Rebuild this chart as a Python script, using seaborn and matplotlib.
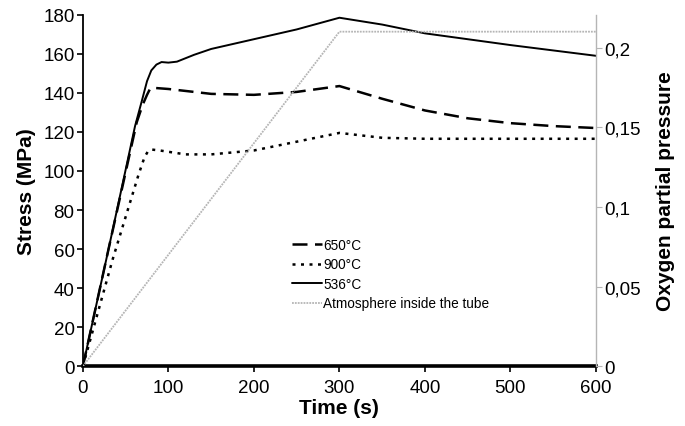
import matplotlib
matplotlib.use("Agg")
import matplotlib.pyplot as plt
import seaborn as sns

# stress curves (time in s, stress in MPa)
t_536 = [0, 30, 61, 69, 75, 80, 86, 92, 100, 110, 130, 150, 200, 250, 300, 350, 400, 500, 600]
s_536 = [0, 60, 123, 136, 146, 151.5, 154.5, 155.8, 155.5, 156, 159.5, 162.5, 167.5, 172.5, 178.5, 175, 170.5, 164.5, 159]

t_650 = [0, 30, 63, 70, 75, 79, 85, 100, 150, 200, 250, 300, 350, 400, 450, 500, 550, 600]
s_650 = [0, 60, 125, 134, 139, 142.5, 142.5, 142, 139.5, 139, 140.5, 143.5, 137, 131, 127, 124.5, 123, 122]

t_900 = [0, 35, 65, 72, 76, 80, 90, 120, 150, 200, 250, 300, 350, 400, 600]
s_900 = [0, 55, 98, 107, 110, 111, 110.5, 108.5, 108.5, 110.5, 115, 119.5, 117, 116.5, 116.5]

# oxygen partial pressure in the tube
t_o2 = [0, 300, 600]
p_o2 = [0, 0.21, 0.21]

sns.set_style("ticks")
plt.rcParams["font.family"] = ["Liberation Sans", "DejaVu Sans"]
plt.rcParams["text.color"] = "black"
plt.rcParams["axes.labelcolor"] = "black"
plt.rcParams["xtick.color"] = "black"
plt.rcParams["ytick.color"] = "black"

fig = plt.figure(figsize=(6.85, 4.27), dpi=100)
ax = fig.add_axes([0.121, 0.140, 0.749, 0.823])
ax2 = ax.twinx()

sns.lineplot(x=t_650, y=s_650, ax=ax, color="black", lw=1.8,
             linestyle=(0, (6, 3)), label="650°C", sort=False)
sns.lineplot(x=t_900, y=s_900, ax=ax, color="black", lw=1.8,
             linestyle=(0, (1.2, 2.2)), label="900°C", sort=False)
sns.lineplot(x=t_536, y=s_536, ax=ax, color="black", lw=1.4,
             label="536°C", sort=False)
sns.lineplot(x=t_o2, y=p_o2, ax=ax2, color="#b5b5b5", lw=1.3,
             linestyle=(0, (1, 0.6)), label="Atmosphere inside the tube", sort=False)

ax.set_xlim(0, 600)
ax.set_ylim(0, 180)
ax2.set_ylim(0, 0.2206)
ax.set_xticks(range(0, 601, 100))
ax.set_yticks(range(0, 181, 20))
ax2.set_yticks([0, 0.05, 0.1, 0.15, 0.2])
ax2.set_yticklabels(["0", "0,05", "0,1", "0,15", "0,2"])

ax.set_xlabel("Time (s)", fontsize=15, fontweight="bold", labelpad=2)
ax.set_ylabel("Stress (MPa)", fontsize=15, fontweight="bold", labelpad=5)
ax2.set_ylabel("Oxygen partial pressure", fontsize=15, fontweight="bold", labelpad=11)

ax.tick_params(axis="both", labelsize=13.5, length=4, width=1.2, color="black", pad=2)
ax.tick_params(axis="x", pad=5)
ax2.tick_params(axis="y", labelsize=13.5, length=4, width=0.8, color="#b5b5b5",
                labelcolor="black", pad=2)

ax.spines["top"].set_visible(False)
ax2.spines["top"].set_visible(False)
ax.spines["right"].set_visible(False)
ax2.spines["left"].set_visible(False)
ax2.spines["bottom"].set_visible(False)
ax.spines["left"].set_linewidth(1.3)
ax.spines["left"].set_color("black")
ax.spines["bottom"].set_linewidth(2.6)
ax.spines["bottom"].set_color("black")
ax2.spines["right"].set_color("#b5b5b5")
ax2.spines["right"].set_linewidth(1.0)

h1, l1 = ax.get_legend_handles_labels()
h2, l2 = ax2.get_legend_handles_labels()
ax.get_legend().remove()
ax2.get_legend().remove()
ax2.legend(h1 + h2, l1 + l2, loc="center left", bbox_to_anchor=(0.394, 0.262),
           frameon=False, fontsize=9.8, handlelength=2.2, handletextpad=0.1,
           labelspacing=0.4, borderpad=0)

fig.savefig("out.png", dpi=100)
